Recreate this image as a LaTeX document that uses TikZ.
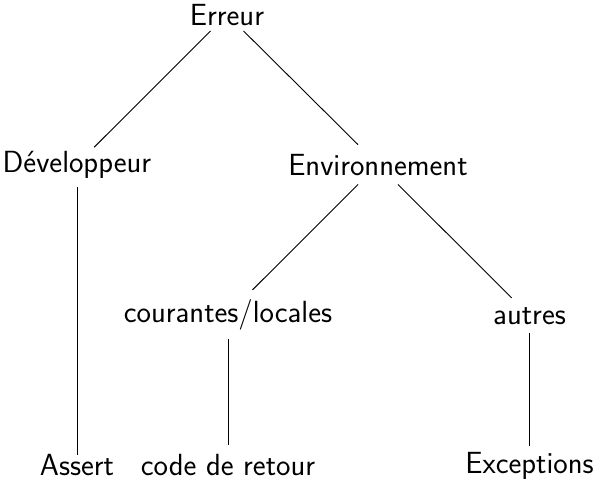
\documentclass[tikz,border=0pt]{standalone}
\usepackage{fontspec}
\begin{document}
\begin{tikzpicture}[x=1pt,y=-1pt,
  lbl/.style={anchor=base,font=\fontsize{30.6}{37}\selectfont\sffamily,inner sep=9pt},
  edge/.style={draw=black,line width=0.9pt}]
\useasboundingbox (0,0) rectangle (594,480);
\node[lbl,inner sep=2pt] (err) at (227,25) {Erreur};
\node[lbl] (dev) at (77,172) {Développeur};
\node[lbl] (env) at (378,175) {Environnement};
\node[lbl] (cou) at (228,322) {courantes/locales};
\node[lbl] (aut) at (529.5,324) {autres};
\node[lbl] (ass) at (77,475) {Assert};
\node[lbl] (cod) at (228,475) {code de retour};
\node[lbl] (exc) at (529.5,473) {Exceptions};
\draw[edge,shorten <=5pt,shorten >=-8pt] (err) -- (dev);
\draw[edge,shorten <=5pt] (err) -- (env);
\draw[edge,shorten >=-10pt] (dev) -- (ass);
\draw[edge] (env) -- (cou);
\draw[edge] (env) -- (aut);
\draw[edge] (cou) -- (cod);
\draw[edge,shorten >=-3pt] (aut) -- (exc);
\end{tikzpicture}
\end{document}
